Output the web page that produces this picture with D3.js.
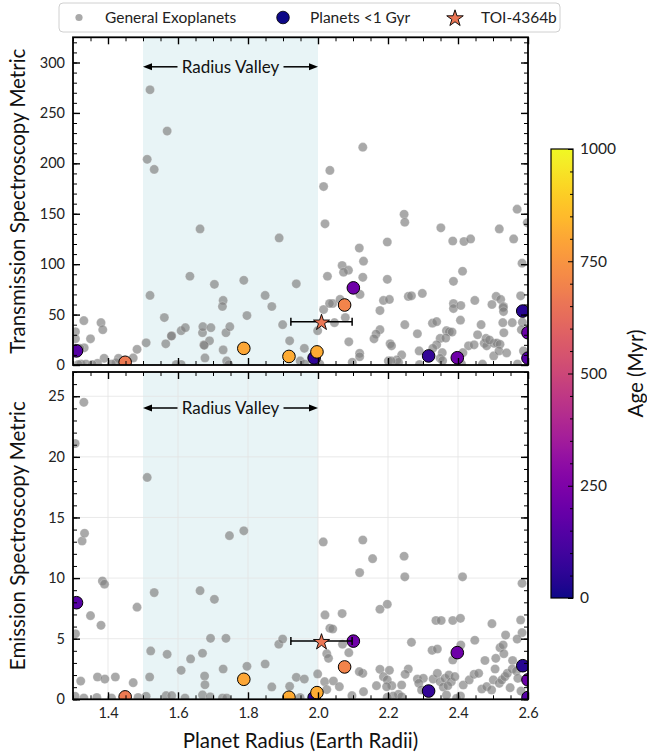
<!DOCTYPE html>
<html><head><meta charset="utf-8">
<script src="https://cdn.jsdelivr.net/npm/d3@7"></script>
<style>body{margin:0;background:#fff}svg{display:block;font-family:Lato,"Open Sans",sans-serif}</style>
</head><body><svg id="c" width="647" height="755"></svg>
<script>
// General exoplanets: transmission panel
const genTsmRadius = [1.52,1.569,1.512,1.532,1.663,1.889,1.634,1.788,1.704,1.938,1.52,1.849,1.729,1.727,1.868,1.561,1.797,1.331,1.38,1.385,1.35,1.307,1.307,1.899,1.582,1.609,1.621,1.67,1.671,1.694,1.737,1.748,1.674,1.69,1.729,1.565,1.509,1.483,1.472,1.677,1.739,1.919,1.961,1.999,2.016,2.027,2.02,2.016,2.034,1.332,1.32,1.389,1.37,1.323,1.337,1.43,1.423,1.949,1.609,2.128,2.246,2.248,2.351,2.569,2.518,2.385,2.417,2.436,2.559,2.198,2.118,2.13,2.583,2.069,2.087,2.073,2.128,2.198,2.413,2.387,2.12,2.187,2.204,2.258,2.267,2.298,2.448,2.509,2.522,2.579,2.387,2.387,2.408,2.497,2.53,2.177,2.042,2.063,2.078,2.047,2.248,2.327,2.339,2.407,2.466,2.528,2.555,2.584,2.177,2.166,2.16,2.284,2.367,2.375,2.383,2.349,2.365,2.456,2.531,2.581,2.088,2.206,2.21,2.339,2.43,2.446,2.475,2.482,2.503,2.511,2.52,2.502,2.517,2.539,2.587,2.289,2.328,2.355,2.349,2.356,2.414,2.239,2.225,2.23,2.201,2.209,2.119,2.119,2.098,1.315,1.355,1.41,1.595,1.745,1.962,2.005,2.29,2.41,2.47,2.57,2.598,2.529,2.53,2.033,2.48,2.49,1.581,1.675];
const genTsm = [273,232,204,194,135,126,88,84,80,80.5,69,69,64,58,58,47,49,44,42,35,26,33,26,40,29,34,37,32,38,37,32,38,20,24,15,21,22,15.5,7,7,4,24,16.5,34,55,88,140,177,193,17,16.5,6.6,1.7,1,1,6.6,2.3,4,0.5,216,149.5,141.6,136,154.5,135,123,122.5,125,125,122,116,103,101,98.7,94,92,87,85,93,83,70,64,65,68,68.6,71,64,68,65,68.6,61,56,59,60,58,54,61,65,47,42,40,41.5,43,44.5,40,42,42,42.5,35,30.7,26,31,34,33,32.7,26.4,26.7,30,32,35,23,21,19,20,19,20,21.5,19,21.5,21.8,20.5,9,14,12,14,14,16.5,12.2,6.6,4.3,12.2,10,5,2.7,4,4,11.6,8.2,2.7,0.5,0.5,1,0.5,0.3,1,1,0.5,1,0.8,1,141,57,53,61,26.4,24.8,28.7,19.5];
// General exoplanets: emission panel
const genEsmRadius = [1.331,1.306,1.512,1.326,1.333,1.747,1.788,2.015,1.384,1.39,1.532,1.663,1.704,1.483,1.35,1.38,1.307,1.693,1.737,1.888,1.899,2.02,2.034,1.522,1.569,1.67,1.636,1.609,1.729,1.849,1.797,1.519,1.676,1.677,1.322,1.37,1.391,1.421,1.472,1.868,1.919,1.938,1.961,1.999,2.019,1.67,1.692,1.306,1.331,1.368,1.41,1.486,1.509,1.566,1.582,1.62,1.727,1.739,1.949,2.025,2.128,2.246,2.156,2.119,2.248,2.413,2.583,2.198,2.177,2.069,2.337,2.352,2.385,2.407,2.497,2.579,2.042,2.536,2.583,2.448,2.267,2.569,2.408,2.07,2.088,2.025,2.03,2.326,2.341,2.52,2.529,2.477,2.508,2.531,2.556,2.385,2.177,2.204,2.187,2.198,2.211,2.196,2.167,2.258,2.249,2.239,2.284,2.301,2.288,2.329,2.341,2.349,2.363,2.374,2.381,2.391,2.358,2.371,2.415,2.432,2.446,2.459,2.468,2.482,2.501,2.506,2.518,2.525,2.534,2.541,2.555,2.567,2.571,2.044,2.061,2.128,2.118,2.13,2.097,2.23,2.215,2.239,2.198,2.296,2.367,2.407,2.396,2.496,2.58,2.549];
const genEsm = [24.5,21.1,18.3,13.06,13.7,13.5,13.9,12.98,9.76,9.5,8.8,8.96,8.25,7.6,6.9,6.1,5.4,5.03,5.03,4.54,4.97,6.96,5.86,3.99,3.71,3.8,3.33,2.39,2.5,2.91,2.72,1.84,1.92,1.2,1.5,1.84,1.67,1.84,1.37,1.02,1.07,1.81,1.67,2.09,1.45,0.36,0.2,0.25,0.1,0.15,0.1,0.15,0.25,0.3,0.3,0.1,0.1,0.1,0.15,0.8,13.14,11.8,11.6,10.45,10.1,10.1,9.57,7.84,7.43,7.07,6.5,6.5,6.5,6.68,6.24,6.54,5.8,5.3,5.5,4.87,4.7,4.97,4.48,4.54,3.85,3.76,3.38,4.04,4.15,4.26,4.48,3.2,3.38,3.76,3.2,3.24,2.47,2.39,1.87,1.6,1.12,1.04,1.12,2.5,2.06,1.18,1.67,1.73,1.32,1.67,2.14,1.45,1.73,2.0,1.45,1.87,1.01,1.12,1.18,1.6,2.06,2.14,0.85,1.04,1.6,2.5,1.32,1.6,1.87,2.14,2.5,2.33,1.73,1.51,1.04,2.14,2.28,0.63,0.3,0.41,0.27,0.21,0.17,0.77,0.35,0.27,0.08,0.77,0.68,0.96];
// Planets younger than 1 Gyr
const youngRadius = [1.31,1.449,1.788,1.917,1.989,1.997,2.076,2.101,2.316,2.398,2.585,2.6,2.6];
const youngTsm    = [14,2.7,16.5,8.5,7,13,59.5,76.5,9,7.2,53.5,32,6.8];
const youngEsm    = [7.97,0.2,1.65,0.17,0.15,0.55,2.67,4.8,0.68,3.85,2.77,1.6,0.15];
const youngAge    = [150,670,800,810,60,810,700,210,70,210,40,200,150];
// TOI-4364b
const toiRadius = 2.01, toiRadiusErr = 0.0875, toiTsm = 43, toiEsm = 4.8, toiAge = 660;
// ticks
const xMajor = [1.4,1.6,1.8,2.0,2.2,2.4,2.6];
const tsmMajor = [0,50,100,150,200,250,300];
const esmMajor = [0,5,10,15,20,25];
const ageTicks = [0,250,500,750,1000];
const valley = [1.5,2.0];

const svg = d3.select("#c");
const defs = svg.append("defs");
const x = d3.scaleLinear().domain([1.3,2.6]).range([73,528]);
const yT = d3.scaleLinear().domain([0,325]).range([365,37.3]);
const yB = d3.scaleLinear().domain([0,27]).range([699.3,372]);
const color = a => d3.interpolatePlasma(a/1000);
const xMinor = d3.range(1.30,2.6001,0.05).map(v=>+v.toFixed(2));
const TICK = 14.5;

function panel(id, y, yMajor, yMinorStep, grid, showX, rs, vs, yVals, isT){
  const g = svg.append("g");
  const [x0,x1] = x.range(), [y0,y1] = y.range();
  defs.append("clipPath").attr("id",id).append("rect").attr("x",x0).attr("y",y1).attr("width",x1-x0).attr("height",y0-y1);
  g.append("rect").attr("x",x(valley[0])).attr("y",y1).attr("width",x(valley[1])-x(valley[0])).attr("height",y0-y1).attr("fill","#e8f4f6");
  if(grid){
    g.selectAll(".gx").data(xMajor).join("line").attr("x1",d=>x(d)).attr("x2",d=>x(d)).attr("y1",y0).attr("y2",y1).attr("stroke","#e3e3e3").attr("stroke-width",0.8);
    g.selectAll(".gy").data(yMajor).join("line").attr("y1",d=>y(d)).attr("y2",d=>y(d)).attr("x1",x0).attr("x2",x1).attr("stroke","#e3e3e3").attr("stroke-width",0.8);
  }
  // annotation
  const ay = y1 + (grid?36:29.5);
  const mid = (x(valley[0])+x(valley[1]))/2;
  g.append("text").attr("x",mid).attr("y",ay).attr("dy","0.35em").attr("text-anchor","middle").attr("font-size",17).attr("fill","#111").text("Radius Valley");
  const arrow = (xs,xe)=>{
    g.append("line").attr("x1",xs).attr("x2",xe + (xe>xs?-6:6)).attr("y1",ay).attr("y2",ay).attr("stroke","#000").attr("stroke-width",1.5);
    const d = xe>xs?-1:1;
    g.append("path").attr("d",`M${xe},${ay}L${xe+d*9},${ay-3.5}L${xe+d*9},${ay+3.5}Z`).attr("fill","#000");
  };
  arrow(mid-53, x(valley[0]));
  arrow(mid+53, x(valley[1]));
  const pts = g.append("g").attr("clip-path",`url(#${id})`);
  // general
  pts.selectAll(".gen").data(rs.map((r,i)=>[r,vs[i]])).join("circle")
    .attr("cx",d=>x(d[0])).attr("cy",d=>y(d[1])).attr("r",4.6)
    .attr("fill","#808080").attr("fill-opacity",0.68).attr("stroke","#fff").attr("stroke-opacity",0.5).attr("stroke-width",0.5);
  // young
  pts.selectAll(".young").data(youngRadius.map((r,i)=>[r,yVals[i],youngAge[i]])).join("circle")
    .attr("cx",d=>x(d[0])).attr("cy",d=>y(d[1])).attr("r",6.3)
    .attr("fill",d=>color(d[2])).attr("stroke","#000").attr("stroke-width",1);
  // TOI
  const tv = isT?toiTsm:toiEsm;
  const ty = y(tv);
  g.append("line").attr("x1",x(toiRadius-toiRadiusErr)).attr("x2",x(toiRadius+toiRadiusErr)).attr("y1",ty).attr("y2",ty).attr("stroke","#000").attr("stroke-width",1.5);
  [toiRadius-toiRadiusErr,toiRadius+toiRadiusErr].forEach(v=>g.append("line").attr("x1",x(v)).attr("x2",x(v)).attr("y1",ty-4).attr("y2",ty+4).attr("stroke","#000").attr("stroke-width",1.5));
  g.append("path").attr("d",d3.symbol(d3.symbolStar,80)()).attr("transform",`translate(${x(toiRadius)},${ty+1})`).attr("fill",color(toiAge)).attr("stroke","#000").attr("stroke-width",0.9);
  // axes with inward ticks
  const yMinor = d3.range(y.domain()[0], y.domain()[1]+1e-9, yMinorStep);
  const mk = (axis, tr, vals, size, fmt)=>{
    const a = g.append("g").attr("transform",tr).call(axis.tickValues(vals).tickSize(-size).tickPadding(8).tickFormat(fmt));
    a.select(".domain").remove();
    a.selectAll("line").attr("stroke","#000").attr("stroke-width",size>5?1.4:1);
    a.selectAll("text").attr("font-size",TICK).attr("fill","#222").attr("font-family","Lato");
    return a;
  };
  const none = ()=>"";
  mk(d3.axisBottom(x),`translate(0,${y0})`,xMajor,7,showX?d3.format(".1f"):none);
  mk(d3.axisBottom(x),`translate(0,${y0})`,xMinor,4,none);
  mk(d3.axisTop(x),`translate(0,${y1})`,xMajor,7,none);
  mk(d3.axisTop(x),`translate(0,${y1})`,xMinor,4,none);
  mk(d3.axisLeft(y),`translate(${x0},0)`,yMajor,7,d3.format("d"));
  mk(d3.axisLeft(y),`translate(${x0},0)`,yMinor,4,none);
  mk(d3.axisRight(y),`translate(${x1},0)`,yMajor,7,none);
  mk(d3.axisRight(y),`translate(${x1},0)`,yMinor,4,none);
  g.append("rect").attr("x",x0).attr("y",y1).attr("width",x1-x0).attr("height",y0-y1).attr("fill","none").attr("stroke","#000").attr("stroke-width",1.8);
}
panel("clipT", yT, tsmMajor, 10, false, false, genTsmRadius, genTsm, youngTsm, true);
panel("clipB", yB, esmMajor, 1, true, true, genEsmRadius, genEsm, youngEsm, false);

// axis titles
const TITLE = 20.5;
svg.append("text").attr("transform",`translate(18,${(365+37.3)/2}) rotate(-90)`).attr("text-anchor","middle").attr("dy","0.35em").attr("font-size",TITLE).attr("fill","#111").text("Transmission Spectroscopy Metric");
svg.append("text").attr("transform",`translate(18,${(699.3+372)/2}) rotate(-90)`).attr("text-anchor","middle").attr("dy","0.35em").attr("font-size",TITLE).attr("fill","#111").text("Emission Spectroscopy Metric");
svg.append("text").attr("x",(73+528)/2).attr("y",741).attr("text-anchor","middle").attr("dy","0.35em").attr("font-size",TITLE).attr("fill","#111").text("Planet Radius (Earth Radii)");

// colorbar
const cb = d3.scaleLinear().domain([0,1000]).range([598,149]);
const grad = defs.append("linearGradient").attr("id","pl").attr("x1",0).attr("x2",0).attr("y1",1).attr("y2",0);
d3.range(0,1.0001,0.02).forEach(t=>grad.append("stop").attr("offset",t).attr("stop-color",d3.interpolatePlasma(t)));
svg.append("rect").attr("x",551).attr("y",149).attr("width",22).attr("height",449).attr("fill","url(#pl)");
const ca = svg.append("g").attr("transform","translate(573,0)").call(d3.axisRight(cb).tickValues(ageTicks).tickSize(-5).tickPadding(7).tickFormat(d3.format("d")));
ca.select(".domain").remove();
ca.selectAll("text").attr("font-size",15.5).attr("fill","#222").attr("font-family","Lato");
const cm = svg.append("g").attr("transform","translate(573,0)").call(d3.axisRight(cb).tickValues(d3.range(50,1000,50).filter(v=>v%250)).tickSize(-3).tickFormat(()=>""));
cm.select(".domain").remove();
svg.append("rect").attr("x",551).attr("y",149).attr("width",22).attr("height",449).attr("fill","none").attr("stroke","#000").attr("stroke-width",1.2);
svg.append("text").attr("transform",`translate(636,373.5) rotate(-90)`).attr("text-anchor","middle").attr("dy","0.35em").attr("font-size",TITLE).attr("fill","#111").text("Age (Myr)");

// legend
const LEG = 15.5;
const lg = svg.append("g");
lg.append("rect").attr("x",59).attr("y",3).attr("width",501).attr("height",29).attr("rx",4).attr("fill","#fff").attr("stroke","#d0d0d0").attr("stroke-width",1);
lg.append("circle").attr("cx",79).attr("cy",17.5).attr("r",3.6).attr("fill","#808080").attr("fill-opacity",0.68);
lg.append("text").attr("x",105).attr("y",17.5).attr("dy","0.35em").attr("font-size",LEG).attr("fill","#222").text("General Exoplanets");
lg.append("circle").attr("cx",283).attr("cy",17.5).attr("r",6.3).attr("fill",color(0)).attr("stroke","#000").attr("stroke-width",0.8);
lg.append("text").attr("x",310).attr("y",17.5).attr("dy","0.35em").attr("font-size",LEG).attr("fill","#222").text("Planets <1 Gyr");
lg.append("path").attr("d",d3.symbol(d3.symbolStar,85)()).attr("transform","translate(455,18.5)").attr("fill",color(toiAge)).attr("stroke","#000").attr("stroke-width",0.9);
lg.append("text").attr("x",481).attr("y",17.5).attr("dy","0.35em").attr("font-size",LEG).attr("fill","#222").text("TOI-4364b");
</script></body></html>
